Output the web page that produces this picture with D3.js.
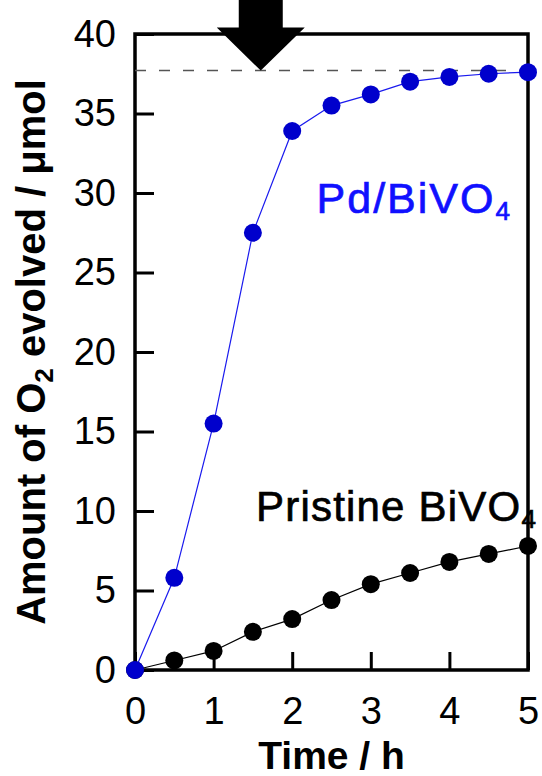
<!DOCTYPE html>
<html>
<head>
<meta charset="utf-8">
<script src="https://cdn.jsdelivr.net/npm/d3@7"></script>
<style>
  html, body { margin: 0; padding: 0; background: white; }
  svg { display: block; }
</style>
</head>
<body>
<div id="chart"></div>
<script>
// data
var hours = [0, 0.5, 1, 1.5, 2, 2.5, 3, 3.5, 4, 4.5, 5];
var pdBiVO4 = [0, 5.8, 15.5, 27.5, 33.9, 35.5, 36.2, 37.0, 37.3, 37.5, 37.6];
var pristine = [0, 0.6, 1.2, 2.4, 3.2, 4.4, 5.4, 6.1, 6.8, 7.3, 7.8];
var xTicks = [0, 1, 2, 3, 4, 5];
var yTicks = [0, 5, 10, 15, 20, 25, 30, 35, 40];
var plateau = 37.7;   // dashed line
var arrowTime = 1.6;  // where the arrow points

var W = 542, H = 776;
var margin = {top: 34, right: 14, bottom: 106, left: 135};
var w = W - margin.left - margin.right;
var h = H - margin.top - margin.bottom;
var font = "'Liberation Sans', Arial, sans-serif";

var svg = d3.select('#chart').append('svg')
  .attr('width', W)
  .attr('height', H);

var g = svg.append('g')
  .attr('transform', 'translate(' + margin.left + ',' + margin.top + ')');

var x = d3.scaleLinear().domain([0, 5]).range([0, w]);
var y = d3.scaleLinear().domain([0, 40]).range([h, 0]);

// axes, ticks pointing inwards
var yAxis = g.append('g')
  .call(d3.axisLeft(y).tickValues(yTicks).tickFormat(d3.format('d'))
    .tickSizeInner(-19).tickSizeOuter(0).tickPadding(19));
var xAxis = g.append('g')
  .attr('transform', 'translate(0,' + h + ')')
  .call(d3.axisBottom(x).tickValues(xTicks).tickFormat(d3.format('d'))
    .tickSizeInner(-18).tickSizeOuter(0).tickPadding(27));

[xAxis, yAxis].forEach(function(a) {
  a.select('.domain').remove();
  a.selectAll('line').attr('stroke', '#000').attr('stroke-width', 3);
  a.selectAll('text')
    .attr('fill', '#000')
    .style('font-family', font)
    .style('font-size', '38px');
});

// frame
g.append('rect')
  .attr('x', 0).attr('y', 0)
  .attr('width', w).attr('height', h)
  .attr('fill', 'none')
  .attr('stroke', '#000')
  .attr('stroke-width', 3.5);

// dashed saturation line
g.append('line')
  .attr('x1', x(0)).attr('x2', x(5))
  .attr('y1', y(plateau)).attr('y2', y(plateau))
  .attr('stroke', '#555')
  .attr('stroke-width', 1.5)
  .attr('stroke-dasharray', '11,13');

// series
var series = [
  {values: pristine, line: '#000', dot: '#000'},
  {values: pdBiVO4, line: '#1a1aee', dot: '#0000cc'}
];

var line = d3.line()
  .x(function(d) { return x(d[0]); })
  .y(function(d) { return y(d[1]); });

series.forEach(function(s) {
  var pts = hours.map(function(t, i) { return [t, s.values[i]]; });
  g.append('path')
    .datum(pts)
    .attr('fill', 'none')
    .attr('stroke', s.line)
    .attr('stroke-width', 1.2)
    .attr('d', line);
  g.selectAll(null)
    .data(pts)
    .enter().append('circle')
    .attr('cx', function(d) { return x(d[0]); })
    .attr('cy', function(d) { return y(d[1]); })
    .attr('r', 9)
    .attr('fill', s.dot);
});

// arrow pointing at the plateau
var ax = x(arrowTime), ay = y(plateau);
g.append('path')
  .attr('d', 'M' + ax + ',' + ay +
    'L' + (ax - 44) + ',' + (ay - 43) +
    'L' + (ax - 22) + ',' + (ay - 43) +
    'L' + (ax - 22) + ',' + (-margin.top - 5) +
    'L' + (ax + 22) + ',' + (-margin.top - 5) +
    'L' + (ax + 22) + ',' + (ay - 43) +
    'L' + (ax + 44) + ',' + (ay - 43) + 'Z')
  .attr('fill', '#000');

// series labels
function label(text, tx, ty, color, size, spacing) {
  var t = g.append('text')
    .attr('x', x(tx))
    .attr('y', y(ty))
    .attr('fill', color)
    .attr('stroke', color)
    .attr('stroke-width', 0.7)
    .style('font-family', font)
    .style('font-size', size + 'px')
    .style('letter-spacing', spacing + 'px');
  t.append('tspan').text(text);
  t.append('tspan').attr('dy', 7).style('font-size', '26px').text('4');
}
label('Pd/BiVO', 2.31, 28.75, '#1010ff', 43, 2);
label('Pristine BiVO', 1.54, 9.4, '#000', 42, 1.2);

// axis titles
svg.append('text')
  .attr('x', margin.left + w / 2)
  .attr('y', 769)
  .attr('text-anchor', 'middle')
  .style('font-family', font)
  .style('font-size', '39px')
  .style('font-weight', 'bold')
  .text('Time / h');

var yt = svg.append('text')
  .attr('transform', 'translate(45,' + (margin.top + h / 2) + ') rotate(-90)')
  .attr('text-anchor', 'middle')
  .style('font-family', font)
  .style('font-size', '40px')
  .style('font-weight', 'bold');
yt.append('tspan').text('Amount of O');
yt.append('tspan').attr('dy', 8).style('font-size', '26px').text('2');
yt.append('tspan').attr('dy', -8).text(' evolved / \u03bcmol');
</script>
</body>
</html>
